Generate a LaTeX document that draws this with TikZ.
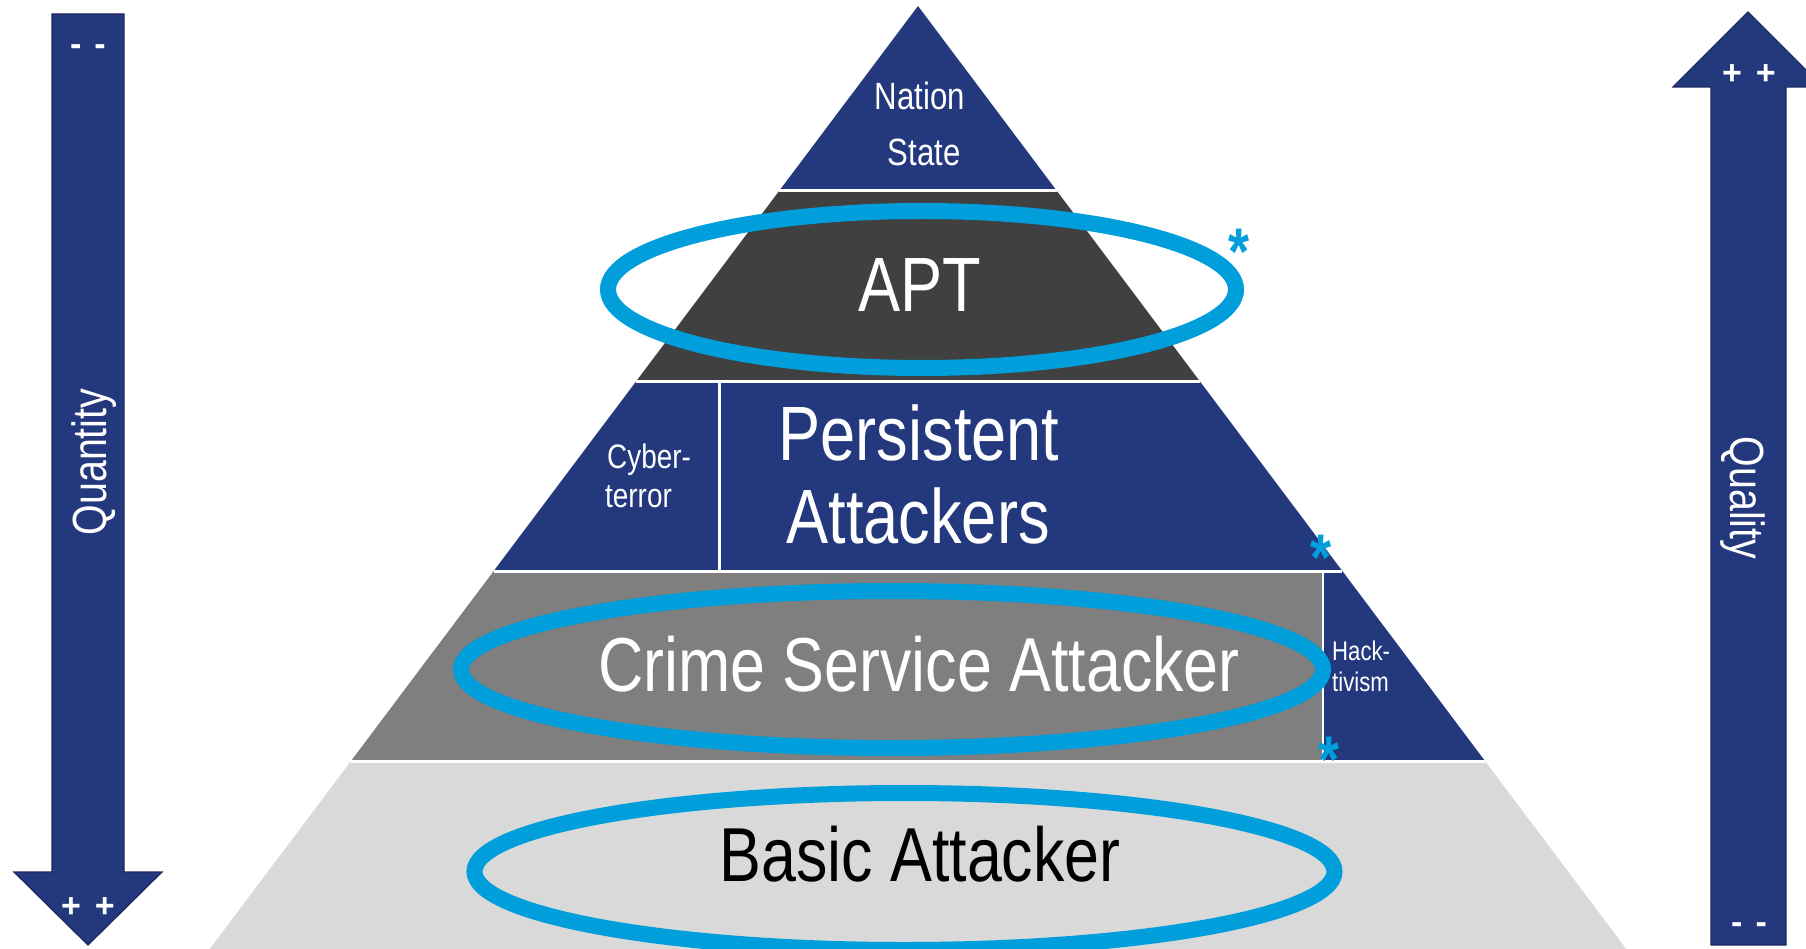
\documentclass[tikz,border=0pt]{standalone}
\usepackage{fontspec}
\setmainfont{Liberation Sans}[FakeStretch=0.82]
\newfontfamily\plainsans{Liberation Sans}
\definecolor{navy}{RGB}{36,56,126}
\definecolor{navyedge}{RGB}{28,42,98}
\definecolor{aptgray}{RGB}{64,64,64}
\definecolor{crimegray}{RGB}{127,127,127}
\definecolor{basicgray}{RGB}{217,217,217}
\definecolor{cyanring}{RGB}{0,158,219}
\tikzset{
  sep/.style={white, line width=3pt},
  ring/.style={draw=cyanring, line width=16pt},
  arrowshape/.style={fill=navy, draw=navyedge, line width=1.2pt, line join=miter},
  wlabel/.style={text=white, inner sep=0pt},
  blabel/.style={text=black, inner sep=0pt},
  star/.style={text=cyanring, inner sep=0pt, anchor=base, font=\bfseries\fontsize{66}{66}\selectfont},
  pm/.style={text=white, inner sep=0pt, anchor=base, font=\plainsans\bfseries\fontsize{34}{34}\selectfont},
}
\begin{document}
\begin{tikzpicture}[x=1pt,y=-1pt]
\useasboundingbox (0,0) rectangle (1806,949);
\clip (0,0) rectangle (1806,949);
\fill[white] (0,0) rectangle (1806,949);

% pyramid levels
\coordinate (apex) at (918,6);
\coordinate (L1) at (779.1,191); \coordinate (R1) at (1056.9,191);
\coordinate (L2) at (636.4,381); \coordinate (R2) at (1199.6,381);
\coordinate (L3) at (493.7,571); \coordinate (R3) at (1342.3,571);
\coordinate (L4) at (351.0,761); \coordinate (R4) at (1485.0,761);
\coordinate (L5) at (201.6,960); \coordinate (R5) at (1634.4,960);
\coordinate (cyT) at (719,381); \coordinate (cyB) at (719,571);
\coordinate (hkT) at (1323,571); \coordinate (hkB) at (1323,761);

\fill[navy] (apex) -- (R1) -- (L1) -- cycle;
\fill[aptgray] (L1) -- (R1) -- (R2) -- (L2) -- cycle;
\fill[navy] (L2) -- (R2) -- (R3) -- (L3) -- cycle;
\fill[crimegray] (L3) -- (hkT) -- (hkB) -- (L4) -- cycle;
\fill[navy] (hkT) -- (R3) -- (R4) -- (hkB) -- cycle;
\fill[basicgray] (L4) -- (R4) -- (R5) -- (L5) -- cycle;

\draw[sep] (L1) -- (R1);
\draw[sep] (L2) -- (R2);
\draw[sep] (L3) -- (R3);
\draw[sep] (L4) -- (R4);
\draw[sep] (cyT) -- (cyB);
\draw[white, line width=2pt] (hkT) -- (hkB);

% rings
\draw[ring] (922,289.5) ellipse [x radius=314, y radius=78.5];
\draw[ring] (892,669.5) ellipse [x radius=431, y radius=78.5];
\draw[ring] (904.5,871.5) ellipse [x radius=430, y radius=78.5];

% pyramid texts
\node[wlabel, anchor=base, font=\fontsize{38}{38}\selectfont] (nation) at (920,110) {Nation};
\node[wlabel, anchor=base, font=\fontsize{38}{38}\selectfont] (state) at (924,166) {State};
\node[wlabel, anchor=base, font=\fontsize{77}{77}\selectfont] (apt) at (920,312) {APT};
\node[wlabel, anchor=base, font=\fontsize{77}{77}\selectfont] (persistent) at (919,460) {Persistent};
\node[wlabel, anchor=base, font=\fontsize{77}{77}\selectfont] (attackers) at (918,543) {Attackers};
\node[wlabel, anchor=base west, font=\fontsize{34}{34}\selectfont] (cyber) at (607,468) {Cyber-};
\node[wlabel, anchor=base west, font=\fontsize{34}{34}\selectfont] (terror) at (605,507) {terror};
\node[wlabel, anchor=base, font=\fontsize{76.5}{76.5}\selectfont] (crime) at (919,691) {Crime Service Attacker};
\node[wlabel, anchor=base west, font=\fontsize{27}{27}\selectfont] (hack) at (1332,660) {Hack-};
\node[wlabel, anchor=base west, font=\fontsize{27}{27}\selectfont] (tivism) at (1332,691) {tivism};
\node[blabel, anchor=base, font=\fontsize{76.5}{76.5}\selectfont] (basic) at (920,881) {Basic Attacker};

% asterisks
\node[star] (st1) at (1239,275) {*};
\node[star] (st2) at (1321,580) {*};
\node[star] (st3) at (1329,782) {*};

% left arrow (Quantity)
\draw[arrowshape] (52,14) -- (124,14) -- (124,872) -- (162,872) -- (88,945) -- (14,872) -- (52,872) -- cycle;
\node[wlabel, rotate=90, font=\fontsize{48}{48}\selectfont] (quantity) at (94,462) {Quantity};
\node[pm] (lminus) at (88,56) {-\hspace{13pt}-};
\node[pm] (lplus) at (88,917) {+\hspace{14pt}+};

% right arrow (Quality)
\draw[arrowshape] (1711,945) -- (1711,87) -- (1673,87) -- (1748,12) -- (1823,87) -- (1786,87) -- (1786,945) -- cycle;
\node[wlabel, rotate=-90, font=\fontsize{48}{48}\selectfont] (quality) at (1742.5,498) {Quality};
\node[pm] (rplus) at (1749,85) {+\hspace{14pt}+};
\node[pm] (rminus) at (1749,933) {-\hspace{13pt}-};
\end{tikzpicture}
\end{document}
